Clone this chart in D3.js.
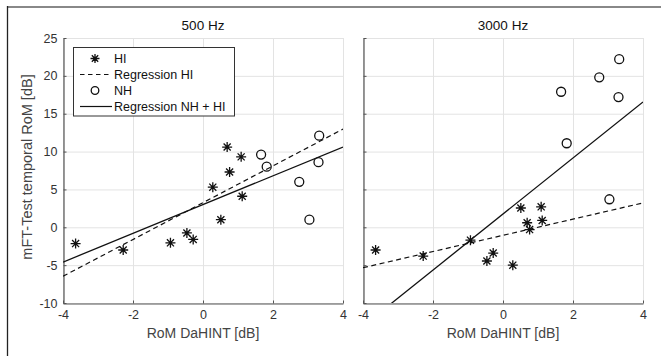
<!DOCTYPE html>
<html>
<head>
<meta charset="utf-8">
<script src="https://cdn.jsdelivr.net/npm/d3@7"></script>
<style>
  body { margin: 0; background: #fff; }
  svg { display: block; font-family: "Liberation Sans", Arial, sans-serif; }
</style>
</head>
<body>
<div id="chart"></div>
<script>
// panels and tick labels
var panels = ["500 Hz", "3000 Hz"];
var xTicks = [-4, -2, 0, 2, 4];
var yTicks = [-10, -5, 0, 5, 10, 15, 20, 25];

// HI listeners (stars)
var xHI = [-3.64, -2.28, -0.93, -0.46, -0.28, 0.28, 0.51, 0.69, 0.76, 1.09, 1.12];
var yHI500 = [-2.15, -3.0, -2.05, -0.75, -1.6, 5.3, 1.0, 10.6, 7.3, 9.3, 4.1];
var yHI3000 = [-3.0, -3.8, -1.7, -4.45, -3.4, -5.0, 2.55, 0.6, -0.3, 2.7, 0.9];

// NH listeners (circles)
var xNH = [1.66, 1.82, 2.75, 3.04, 3.3, 3.32];
var yNH500 = [9.6, 8.0, 6.0, 1.0, 8.6, 12.1];
var yNH3000 = [17.9, 11.1, 19.8, 3.7, 17.2, 22.2];

// regression lines [500 Hz, 3000 Hz]
var regHISlope = [2.43, 1.07];
var regHIIntercept = [3.25, -1.06];
var regAllSlope = [1.9, 3.70];
var regAllIntercept = [3.0, 1.75];

var legendLabels = ["HI", "Regression HI", "NH", "Regression NH + HI"];

var width = 661, height = 356;
var svg = d3.select("#chart").append("svg")
    .attr("width", width)
    .attr("height", height);

// figure frame (cropped)
svg.append("line").attr("x1", 7).attr("x2", width).attr("y1", 7).attr("y2", 7)
    .attr("stroke", "#888").attr("stroke-width", 2);
svg.append("line").attr("x1", 7.5).attr("x2", 7.5).attr("y1", 6).attr("y2", height)
    .attr("stroke", "#222").attr("stroke-width", 1.3);

var plotTop = 38, plotBottom = 303;
var panelLeft = [63, 363];
var panelW = 280;

var y = d3.scaleLinear().domain([-10, 25]).range([plotBottom, plotTop]);

// star marker: plus + times
function star(r) {
    var d = r * Math.SQRT1_2;
    return "M" + (-r) + ",0L" + r + ",0M0," + (-r) + "L0," + r +
        "M" + (-d) + "," + (-d) + "L" + d + "," + d +
        "M" + (-d) + "," + d + "L" + d + "," + (-d);
}

panels.forEach(function (title, p) {
    var x = d3.scaleLinear().domain([-4, 4]).range([panelLeft[p], panelLeft[p] + panelW]);
    var g = svg.append("g");

    // grid
    g.selectAll(".gx").data(xTicks).enter().append("line")
        .attr("x1", function (d) { return x(d) + 0.5; })
        .attr("x2", function (d) { return x(d) + 0.5; })
        .attr("y1", plotTop).attr("y2", plotBottom)
        .attr("stroke", "#e3e3e3").attr("stroke-width", 1);
    g.selectAll(".gy").data(yTicks).enter().append("line")
        .attr("x1", x(-4)).attr("x2", x(4))
        .attr("y1", function (d) { return y(d) + 0.5; })
        .attr("y2", function (d) { return y(d) + 0.5; })
        .attr("stroke", "#e3e3e3").attr("stroke-width", 1);

    // axes
    var xAxis = g.append("g")
        .attr("transform", "translate(0," + (plotBottom + 0.5) + ")")
        .call(d3.axisBottom(x).tickValues(xTicks).tickSizeInner(-3).tickSizeOuter(0).tickPadding(7)
            .tickFormat(function (d) { return String(d); }));
    var yAxis = g.append("g")
        .attr("transform", "translate(" + (x(-4) + 0.5) + ",0)")
        .call(d3.axisLeft(y).tickValues(yTicks).tickSizeInner(-3).tickSizeOuter(0).tickPadding(6)
            .tickFormat(function (d) { return p === 0 ? String(d) : ""; }));
    [xAxis, yAxis].forEach(function (a) {
        a.select(".domain").attr("stroke", "#555").attr("stroke-width", 1.2);
        a.selectAll(".tick line").attr("stroke", "#555");
        a.selectAll("text").attr("fill", "#333").style("font-size", "12.5px");
    });

    // title and x label
    g.append("text").attr("x", x(0)).attr("y", 30).attr("text-anchor", "middle")
        .attr("fill", "#111").style("font-size", "13.5px").text(title);
    g.append("text").attr("x", x(0)).attr("y", 338).attr("text-anchor", "middle")
        .attr("fill", "#444").style("font-size", "14px").text("RoM DaHINT [dB]");

    // clip
    var clipId = "clip" + p;
    svg.append("clipPath").attr("id", clipId).append("rect")
        .attr("x", x(-4)).attr("y", plotTop).attr("width", panelW).attr("height", plotBottom - plotTop);

    var line = d3.line().x(function (d) { return x(d); });
    var plot = g.append("g").attr("clip-path", "url(#" + clipId + ")");

    plot.append("path")
        .datum([-4, 4])
        .attr("d", line.y(function (d) { return y(regHISlope[p] * d + regHIIntercept[p]); }))
        .attr("fill", "none").attr("stroke", "#111").attr("stroke-width", 1.2)
        .attr("stroke-dasharray", "5,3.5");
    plot.append("path")
        .datum([-4, 4])
        .attr("d", line.y(function (d) { return y(regAllSlope[p] * d + regAllIntercept[p]); }))
        .attr("fill", "none").attr("stroke", "#111").attr("stroke-width", 1.3);

    var yHI = p === 0 ? yHI500 : yHI3000;
    var yNH = p === 0 ? yNH500 : yNH3000;

    g.selectAll(".star").data(xHI).enter().append("path")
        .attr("transform", function (d, i) { return "translate(" + x(d) + "," + y(yHI[i]) + ")"; })
        .attr("d", star(5))
        .attr("fill", "none").attr("stroke", "#111").attr("stroke-width", 1.3);

    g.selectAll(".nh").data(xNH).enter().append("circle")
        .attr("cx", function (d) { return x(d); })
        .attr("cy", function (d, i) { return y(yNH[i]); })
        .attr("r", 4.5)
        .attr("fill", "none").attr("stroke", "#111").attr("stroke-width", 1.3);
});

// y label
svg.append("text")
    .attr("transform", "translate(32,167) rotate(-90)")
    .attr("text-anchor", "middle").attr("fill", "#444").style("font-size", "14.5px")
    .text("mFT-Test temporal RoM [dB]");

// legend
var lg = svg.append("g");
lg.append("rect").attr("x", 73.5).attr("y", 47.5).attr("width", 161).attr("height", 68.5)
    .attr("fill", "#fff").attr("stroke", "#333").attr("stroke-width", 1);
var rowY = [58.5, 74.5, 90.5, 106.5];
legendLabels.forEach(function (label, i) {
    var cy = rowY[i];
    if (i === 0) {
        lg.append("path").attr("transform", "translate(95," + cy + ")").attr("d", star(4.5))
            .attr("fill", "none").attr("stroke", "#111").attr("stroke-width", 1.3);
    } else if (i === 2) {
        lg.append("circle").attr("cx", 95).attr("cy", cy).attr("r", 3.8)
            .attr("fill", "none").attr("stroke", "#111").attr("stroke-width", 1.3);
    } else {
        lg.append("line").attr("x1", 80).attr("x2", 112).attr("y1", cy).attr("y2", cy)
            .attr("stroke", "#111").attr("stroke-width", 1.2)
            .attr("stroke-dasharray", i === 1 ? "4.5,3.5" : null);
    }
    lg.append("text").attr("x", 114).attr("y", cy + 4.5).attr("fill", "#111")
        .style("font-size", "12.5px").text(label);
});
</script>
</body>
</html>
